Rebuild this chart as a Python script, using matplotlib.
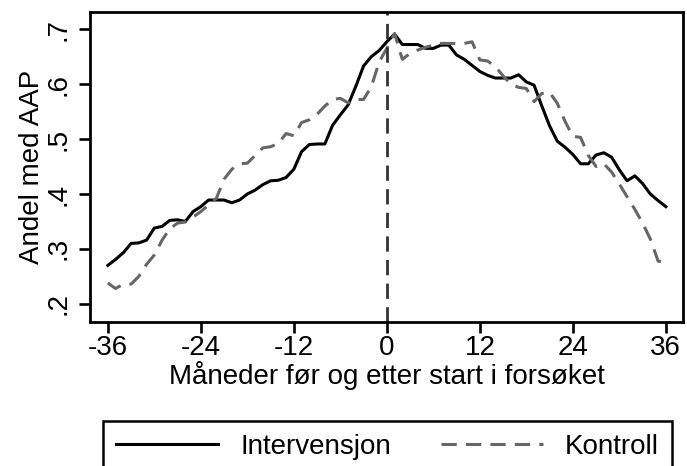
import numpy as np
import matplotlib
matplotlib.use("Agg")
import matplotlib.pyplot as plt

plt.rcParams['font.family'] = ['Liberation Sans', 'DejaVu Sans']
plt.rcParams['axes.unicode_minus'] = False

# Months relative to start of the trial
months = list(range(-36, 37))

# Share with AAP, intervention group
intervensjon = [
    0.270, 0.281, 0.293, 0.310, 0.311, 0.316, 0.338, 0.341, 0.352, 0.353,
    0.350, 0.368, 0.377, 0.389, 0.389, 0.389, 0.384, 0.389, 0.400, 0.407,
    0.417, 0.424, 0.425, 0.430, 0.445, 0.477, 0.490, 0.491, 0.491, 0.525,
    0.544, 0.562, 0.596, 0.633, 0.650, 0.661, 0.677, 0.691, 0.672, 0.672,
    0.672, 0.665, 0.665, 0.671, 0.671, 0.653, 0.645, 0.634, 0.623, 0.616,
    0.611, 0.611, 0.611, 0.617, 0.604, 0.598, 0.560, 0.524, 0.496, 0.485,
    0.472, 0.455, 0.455, 0.471, 0.475, 0.467, 0.444, 0.424, 0.433, 0.419,
    0.400, 0.388, 0.377,
]

# Share with AAP, control group
kontroll = [
    0.238, 0.228, 0.236, 0.236, 0.250, 0.272, 0.289, 0.316, 0.337, 0.347,
    0.349, 0.358, 0.368, 0.380, 0.392, 0.427, 0.445, 0.455, 0.456, 0.470,
    0.484, 0.486, 0.492, 0.510, 0.506, 0.530, 0.535, 0.545, 0.560, 0.572,
    0.574, 0.566, 0.572, 0.572, 0.595, 0.640, 0.665, 0.692, 0.645, 0.656,
    0.662, 0.667, 0.671, 0.674, 0.674, 0.674, 0.674, 0.677, 0.644, 0.642,
    0.632, 0.615, 0.600, 0.594, 0.592, 0.568, 0.583, 0.585, 0.565, 0.532,
    0.505, 0.503, 0.470, 0.450, 0.455, 0.440, 0.418, 0.395, 0.372, 0.347,
    0.318, 0.278, 0.275,
]

xticks = [-36, -24, -12, 0, 12, 24, 36]
yticks = [0.2, 0.3, 0.4, 0.5, 0.6, 0.7]
ytick_labels = [".2", ".3", ".4", ".5", ".6", ".7"]

fig = plt.figure(figsize=(6.87, 4.66), dpi=100)
ax = fig.add_axes([0.131, 0.309, 0.863, 0.665])

ax.plot(months, intervensjon, color="black", linewidth=2.2, label="Intervensjon")
ax.plot(months, kontroll, color="#666666", linewidth=2.2, linestyle=(0, (5, 3)),
        label="Kontroll")
ax.axvline(0, color="#333333", linewidth=2.0, linestyle=(0, (5.5, 3)))

ax.set_xlim(-38.3, 38.2)
ax.set_ylim(0.167, 0.731)
ax.set_xticks(xticks)
ax.set_yticks(yticks)
ax.set_yticklabels(ytick_labels, rotation=90, va="center")
ax.tick_params(axis="both", labelsize=20, width=1.9, length=8, color="black")
ax.tick_params(axis="x", pad=1.5)
ax.tick_params(axis="y", pad=5)
for s in ax.spines.values():
    s.set_linewidth(2.0)

ax.set_xlabel("Måneder før og etter start i forsøket", fontsize=20, labelpad=0)
ax.set_ylabel("Andel med AAP", fontsize=20, labelpad=1)

leg = fig.legend(loc="upper center", bbox_to_anchor=(387.5 / 687, 1 - 421 / 466),
                 ncol=2, fontsize=20, frameon=True, fancybox=False, framealpha=1,
                 handlelength=3.67, handletextpad=0.8, columnspacing=1.8,
                 borderpad=0.47, borderaxespad=0)
leg.get_frame().set_edgecolor("black")
leg.get_frame().set_linewidth(1.8)

fig.savefig("out.png", dpi=100)
